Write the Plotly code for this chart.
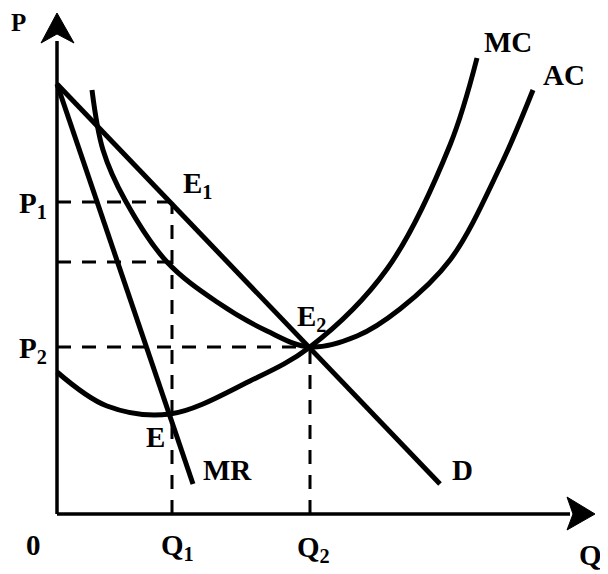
import plotly.graph_objects as go

# ---- data (quantity / price units measured from the origin) ----
d_q = [0, 383]
d_p = [430, 30]
mr_q = [0, 136]
mr_p = [430, 30]
ac_q = [35, 46, 68, 110, 160, 210, 253, 300, 343, 393, 443, 476]
ac_p = [424, 364, 314, 252, 212, 183, 167, 178, 205, 254, 347, 424]
mc_q = [0, 50, 113, 193, 253, 330, 393, 420]
mc_p = [142, 108, 100, 133, 167, 245, 369, 456]
q1, q2 = 115, 253
p1, p2 = 312, 167
ac_at_q1 = 252
q_max, p_max = 538, 501

BLACK = "#000"
FONT = "Liberation Serif"

fig = go.Figure()

def line(x, y, width=5, dash=None, shape="linear"):
    fig.add_trace(go.Scatter(x=x, y=y, mode="lines",
                             line=dict(color=BLACK, width=width, dash=dash, shape=shape, smoothing=1.0),
                             hoverinfo="skip", showlegend=False))

# axes
line([0, 0], [0, p_max - 28], width=3.5)
line([0, q_max - 25], [0, 0], width=3.5)
# arrowheads
fig.add_trace(go.Scatter(x=[0, 17, 0, -16, 0], y=[p_max, p_max - 30, p_max - 21, p_max - 30, p_max],
                         fill="toself", fillcolor=BLACK, mode="lines",
                         line=dict(color=BLACK, width=1), hoverinfo="skip", showlegend=False))
fig.add_trace(go.Scatter(x=[q_max, q_max - 28, q_max - 22, q_max - 28, q_max], y=[0, 17, 0, -16, 0],
                         fill="toself", fillcolor=BLACK, mode="lines",
                         line=dict(color=BLACK, width=1), hoverinfo="skip", showlegend=False))

# dashed guides
dash = "14px,11px"
line([0, q1], [p1, p1], width=3, dash=dash)
line([0, q1], [ac_at_q1, ac_at_q1], width=3, dash=dash)
line([q1, q1], [0, p1], width=3, dash=dash)
line([0, q2], [p2, p2], width=3, dash=dash)
line([q2, q2], [0, p2], width=3, dash=dash)

# curves
line(d_q, d_p, width=5)
line(mr_q, mr_p, width=5)
line(ac_q, ac_p, width=5, shape="spline")
line(mc_q, mc_p, width=5, shape="spline")

# labels (positions in data units)
labels = [
    ("P", -39, 492, 25),
    ("P<sub>1</sub>", -24, 309, 29),
    ("P<sub>2</sub>", -24, 164, 29),
    ("0", -24, -31, 29),
    ("Q<sub>1</sub>", 120, -33, 29),
    ("Q<sub>2</sub>", 256, -35, 29),
    ("Q", 533, -41, 29),
    ("E<sub>1</sub>", 140, 329, 29),
    ("E<sub>2</sub>", 254, 196, 29),
    ("E", 98, 77, 29),
    ("MR", 170, 44, 29),
    ("D", 405, 44, 29),
    ("MC", 451, 472, 29),
    ("AC", 507, 439, 29),
]
for text, x, y, size in labels:
    fig.add_annotation(x=x, y=y, text="<b>" + text + "</b>", showarrow=False,
                       xanchor="center", yanchor="middle",
                       font=dict(family=FONT, size=size, color=BLACK))

fig.update_layout(
    width=600, height=566,
    margin=dict(l=0, r=0, t=0, b=0),
    paper_bgcolor="white", plot_bgcolor="white",
    xaxis=dict(range=[-49, 551], visible=False, fixedrange=True),
    yaxis=dict(range=[-60, 506], visible=False, fixedrange=True),
    showlegend=False,
)
fig.write_html("out.html")
